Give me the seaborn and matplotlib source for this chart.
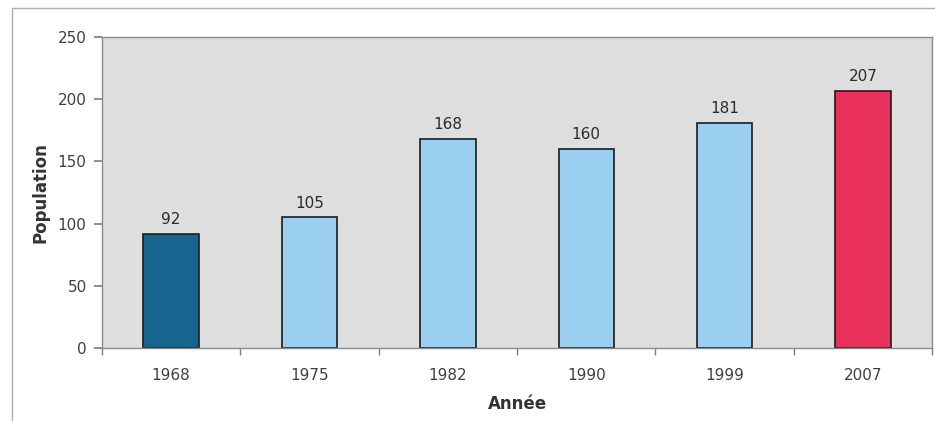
import numpy as np
import pandas as pd
import seaborn as sns
import matplotlib.pyplot as plt
from matplotlib.lines import Line2D

annees = ['1968', '1975', '1982', '1990', '1999', '2007']
population = [92, 105, 168, 160, 181, 207]
couleurs = ['#15658f', '#9acff2', '#9acff2', '#9acff2', '#9acff2', '#e8305c']

df = pd.DataFrame({'Année': annees, 'Population': population})

sns.set_theme(style='white')
plt.rcParams['font.family'] = ['DejaVu Sans']

fig = plt.figure(figsize=(9.35, 4.21), dpi=100)
ax = fig.add_axes([0.109, 0.173, 0.888, 0.739])
ax.set_facecolor('#dedede')

sns.barplot(data=df, x='Année', y='Population', hue='Année', palette=couleurs,
            legend=False, width=0.4, edgecolor='#1c1c1c', linewidth=1.2,
            saturation=1, ax=ax)

for c in ax.containers:
    ax.bar_label(c, padding=5, fontsize=11, color='#2a2a2a')

ax.set_ylim(0, 250)
ax.set_yticks(np.arange(0, 251, 50))
ax.set_xlim(-0.5, 5.5)
ax.set_xticks(np.arange(-0.5, 6, 1), minor=True)
ax.tick_params(axis='x', which='major', length=0, pad=14, labelsize=11, labelcolor='#404040')
ax.tick_params(axis='x', which='minor', length=5, color='#808080', direction='out', bottom=True)
ax.tick_params(axis='y', length=6, color='#808080', left=True, pad=5, labelsize=11, labelcolor='#404040')

for s in ax.spines.values():
    s.set_color('#8a8a8a')
    s.set_linewidth(1)

ax.set_xlabel('Année', fontweight='bold', fontsize=12, color='#333333', labelpad=9)
ax.set_ylabel('Population', fontweight='bold', fontsize=12, color='#333333', labelpad=6)

# cadre extérieur
fig.add_artist(Line2D([0.013, 0.013], [0.0, 0.981], color='#b0b0b0', lw=1))
fig.add_artist(Line2D([0.013, 1.0], [0.981, 0.981], color='#b0b0b0', lw=1))

fig.savefig('out.png', dpi=100)
